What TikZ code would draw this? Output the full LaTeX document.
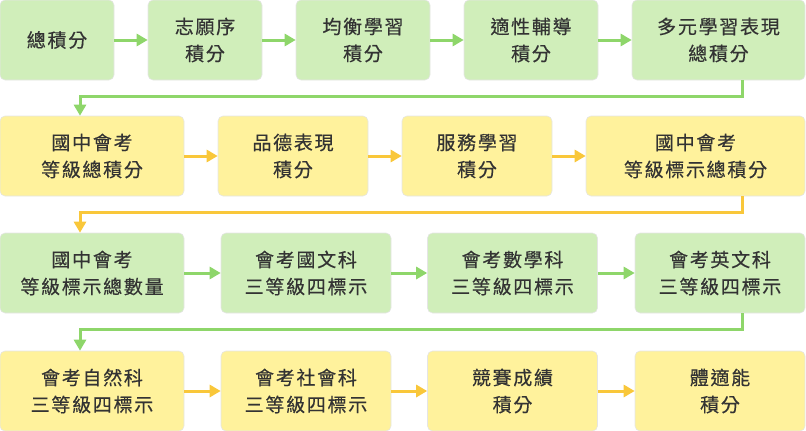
\documentclass[tikz,border=0pt]{standalone}
\usepackage{fontspec}
\usepackage{xcolor}
\usepackage{tikz}
\usetikzlibrary{arrows.meta, positioning, calc}
\newfontfamily\cjk[LetterSpace=9, FakeBold=0.4]{Noto Sans CJK TC}

\begin{document}
\begin{tikzpicture}[x=1pt, y=-1pt]
    % Row colors
    \definecolor{gfill}{HTML}{D0EEBA}
    \definecolor{gline}{HTML}{8ED66A}
    \definecolor{yfill}{HTML}{FFF29C}
    \definecolor{yline}{HTML}{F9C73A}
    \definecolor{txt}{HTML}{333333}

    \tikzset{
        card/.style={rectangle, rounded corners=5pt, draw=black!10, line width=0.6pt,
            inner sep=0pt, minimum height=80pt, align=center, text=txt,
            font=\cjk\fontsize{19}{27}\selectfont},
        gbox/.style={card, fill=gfill},
        ybox/.style={card, fill=yfill},
        garrow/.style={draw=gline, line width=3pt, -{Triangle[length=11pt, width=12pt]}},
        yarrow/.style={draw=yline, line width=3pt, -{Triangle[length=11pt, width=12pt]}}
    }

    \useasboundingbox (0,0) rectangle (806,431);

    % Row 1
    \node[gbox, minimum width=114pt] (r1a) at (57,40) {總積分};
    \node[gbox, minimum width=114pt] (r1b) at (205,40) {志願序\\積分};
    \node[gbox, minimum width=134pt] (r1c) at (363,40) {均衡學習\\積分};
    \node[gbox, minimum width=134pt] (r1d) at (531,40) {適性輔導\\積分};
    \node[gbox, minimum width=173pt] (r1e) at (718.5,40) {多元學習表現\\總積分};

    % Row 2
    \node[ybox, minimum width=184pt] (r2a) at (92,156) {國中會考\\等級總積分};
    \node[ybox, minimum width=150pt] (r2b) at (293,156) {品德表現\\積分};
    \node[ybox, minimum width=150pt] (r2c) at (477,156) {服務學習\\積分};
    \node[ybox, minimum width=219pt] (r2d) at (695.5,156) {國中會考\\等級標示總積分};

    % Row 3
    \node[gbox, minimum width=184pt] (r3a) at (92,273) {國中會考\\等級標示總數量};
    \node[gbox, minimum width=170pt] (r3b) at (306,273) {會考國文科\\三等級四標示};
    \node[gbox, minimum width=170pt] (r3c) at (512.5,273) {會考數學科\\三等級四標示};
    \node[gbox, minimum width=170pt] (r3d) at (720,273) {會考英文科\\三等級四標示};

    % Row 4
    \node[ybox, minimum width=184pt] (r4a) at (92,391) {會考自然科\\三等級四標示};
    \node[ybox, minimum width=170pt] (r4b) at (306,391) {會考社會科\\三等級四標示};
    \node[ybox, minimum width=170pt] (r4c) at (512.5,391) {競賽成績\\積分};
    \node[ybox, minimum width=170pt] (r4d) at (720,391) {體適能\\積分};

    % Arrows within rows
    \foreach \a/\b in {r1a/r1b, r1b/r1c, r1c/r1d, r1d/r1e, r3a/r3b, r3b/r3c, r3c/r3d}
        \draw[garrow] (\a) -- (\b);
    \foreach \a/\b in {r2a/r2b, r2b/r2c, r2c/r2d, r4a/r4b, r4b/r4c, r4c/r4d}
        \draw[yarrow] (\a) -- (\b);

    % Turns between rows
    \coordinate (turnR) at (742,0);
    \coordinate (turnL) at (80,0);
    \draw[garrow] (r1e.south -| turnR) -- ++(0,16) -| (r2a.north -| turnL);
    \draw[yarrow] (r2d.south -| turnR) -- ++(0,16) -| (r3a.north -| turnL);
    \draw[garrow] (r3d.south -| turnR) -- ++(0,16) -| (r4a.north -| turnL);
\end{tikzpicture}
\end{document}
